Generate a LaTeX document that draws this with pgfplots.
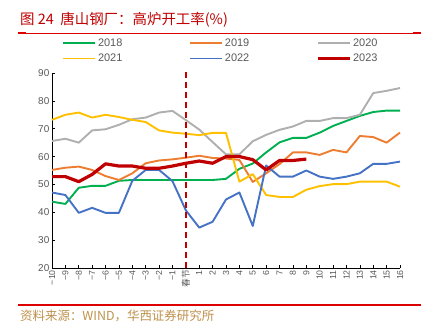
\documentclass[border=0pt]{standalone}
\usepackage{pgfplots}
\pgfplotsset{compat=1.18}
\usepackage{fontspec}
\setmainfont{Liberation Sans}
\newfontfamily\cjk{Noto Sans CJK SC}
\definecolor{c18}{RGB}{0,176,80}
\definecolor{c19}{RGB}{237,125,49}
\definecolor{c20}{RGB}{175,175,175}
\definecolor{c21}{RGB}{255,192,0}
\definecolor{c22}{RGB}{68,114,196}
\definecolor{c23}{RGB}{192,0,0}
\definecolor{titlered}{RGB}{192,0,0}
\definecolor{linered}{RGB}{220,0,0}
\definecolor{srcgold}{RGB}{190,145,75}
\definecolor{txtgray}{RGB}{89,89,89}
\begin{document}
\begin{tikzpicture}
\useasboundingbox (0,0) rectangle (431bp,323bp);
\node[anchor=base west, text=titlered, font=\cjk\fontsize{14.5}{14.5}\selectfont, inner sep=0pt] at (20bp,298bp) {图 24\ \ 唐山钢厂：高炉开工率(\%)};
\draw[linered, line width=0.8bp] (18bp,290bp) -- (421bp,290bp);
\fill[linered] (18bp,289.2bp) rectangle (26bp,290.8bp);
\fill[linered] (413bp,289.2bp) rectangle (421bp,290.8bp);
\draw[linered, line width=2bp] (18bp,18bp) -- (421bp,18bp);
\node[anchor=base west, text=srcgold, font=\cjk\fontsize{12.5}{12.5}\selectfont, inner sep=0pt] at (20bp,3bp) {资料来源：WIND，华西证券研究所};
\begin{axis}[
  at={(52bp,55bp)}, anchor=south west,
  scale only axis, width=348bp, height=195bp,
  xmin=-10, xmax=16, ymin=20, ymax=90,
  axis x line*=bottom, axis y line*=left,
  axis line style={black, line width=0.8bp},
  tick style={black, line width=0.6bp},
  tick align=inside, major tick length=3bp,
  xtick={-10,...,16},
  xticklabels={−10,−9,−8,−7,−6,−5,−4,−3,−2,−1,{\cjk 春节},1,2,3,4,5,6,7,8,9,10,11,12,13,14,15,16},
  ytick={20,30,...,90},
  xticklabel style={rotate=90, anchor=east, font=\fontsize{8.8}{8.8}\selectfont, text=txtgray, inner sep=2bp},
  yticklabel style={font=\fontsize{10}{10}\selectfont, text=txtgray, inner sep=2.5bp},
  /pgf/number format/assume math mode=true,
  clip=false,
  legend columns=3,
  legend style={at={(axis description cs:0.02,1.197)}, anchor=north west, draw=none, fill=none,
    font=\fontsize{11}{11}\selectfont, text=txtgray, row sep=2bp,
    /tikz/every even column/.append style={column sep=0bp}},
  legend cell align=left,
  legend image code/.code={\draw[#1] (0bp,0bp) -- (32bp,0bp);},
  every axis plot/.append style={line width=1.9bp, line join=round},
]
\addplot[c18] coordinates {(-10,43.8)(-9,43.0)(-8,48.8)(-7,49.5)(-6,49.5)(-5,51.3)(-4,51.6)(-3,51.6)(-2,51.6)(-1,51.6)(0,51.6)(1,51.6)(2,51.6)(3,52.0)(4,55.6)(5,57.5)(6,61.5)(7,65.1)(8,66.7)(9,66.7)(10,68.6)(11,71.0)(12,72.8)(13,74.6)(14,76.0)(15,76.5)(16,76.5)};
\addlegendentry{\makebox[89bp][l]{2018}}
\addplot[c19] coordinates {(-10,55.2)(-9,56.0)(-8,56.4)(-7,55.2)(-6,53.0)(-5,51.6)(-4,54.0)(-3,57.6)(-2,58.6)(-1,59.0)(0,59.6)(1,60.3)(2,59.5)(3,59.3)(4,58.8)(5,50.9)(6,54.0)(7,57.3)(8,61.5)(9,61.5)(10,60.6)(11,62.4)(12,61.5)(13,67.4)(14,67.0)(15,65.0)(16,68.6)};
\addlegendentry{\makebox[89bp][l]{2019}}
\addplot[c20] coordinates {(-10,65.6)(-9,66.4)(-8,65.0)(-7,69.4)(-6,69.8)(-5,71.4)(-4,73.4)(-3,74.0)(-2,75.8)(-1,76.4)(0,73.1)(1,69.7)(2,65.2)(3,60.8)(4,60.8)(5,65.5)(6,67.8)(7,69.6)(8,70.8)(9,72.8)(10,72.8)(11,73.8)(12,73.8)(13,75.0)(14,82.8)(15,83.6)(16,84.6)};
\addlegendentry{2020}
\addplot[c21] coordinates {(-10,73.2)(-9,75.0)(-8,75.8)(-7,74.0)(-6,75.0)(-5,74.2)(-4,73.2)(-3,72.4)(-2,69.4)(-1,68.6)(0,68.2)(1,67.7)(2,68.5)(3,68.5)(4,51.0)(5,53.7)(6,46.2)(7,45.5)(8,45.5)(9,48.1)(10,49.4)(11,50.1)(12,50.1)(13,51.0)(14,51.0)(15,51.0)(16,49.2)};
\addlegendentry{\makebox[89bp][l]{2021}}
\addplot[c22] coordinates {(-10,47.1)(-9,46.2)(-8,39.8)(-7,41.6)(-6,39.8)(-5,39.8)(-4,51.3)(-3,55.2)(-2,55.2)(-1,51.2)(0,40.7)(1,34.5)(2,36.6)(3,44.6)(4,47.1)(5,35.1)(6,56.8)(7,52.8)(8,52.8)(9,55.0)(10,52.8)(11,52.0)(12,52.8)(13,54.0)(14,57.4)(15,57.4)(16,58.2)};
\addlegendentry{\makebox[89bp][l]{2022}}
\addplot[c23, line width=3.2bp] coordinates {(-10,52.8)(-9,52.8)(-8,51.0)(-7,53.6)(-6,57.4)(-5,56.6)(-4,56.6)(-3,55.8)(-2,55.8)(-1,56.6)(0,57.6)(1,58.4)(2,57.6)(3,60.0)(4,60.0)(5,58.9)(6,55.2)(7,58.6)(8,58.6)(9,59.1)};
\addlegendentry{2023}
\addplot[c23, line width=1.8bp, dash pattern=on 6bp off 4bp, forget plot] coordinates {(0,20)(0,91)};
\end{axis}
\end{tikzpicture}
\end{document}
